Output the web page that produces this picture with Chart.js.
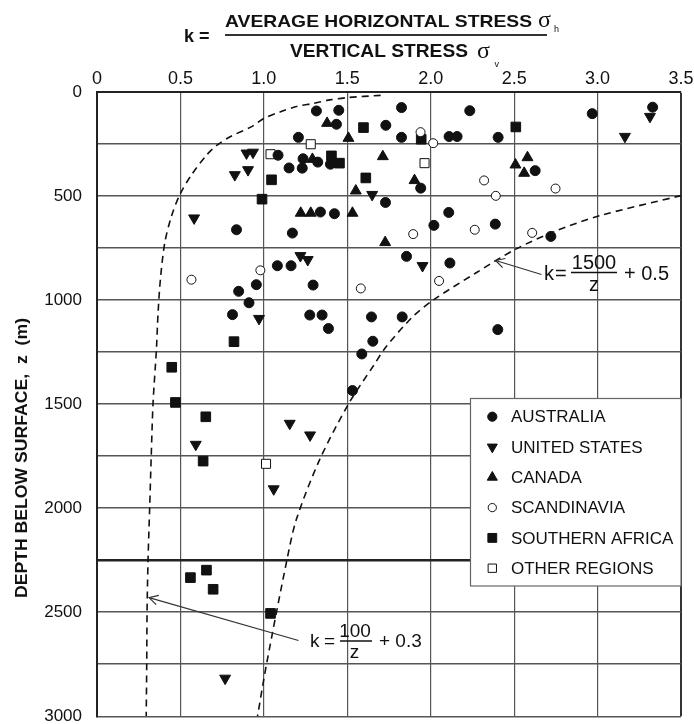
<!DOCTYPE html>
<html><head><meta charset="utf-8">
<script src="https://cdn.jsdelivr.net/npm/chart.js@4.4.1/dist/chart.umd.min.js"></script>
<style>
html,body{margin:0;padding:0;background:#fff;}
canvas{display:block;}
</style></head><body>
<canvas id="c" width="694" height="724" style="width:694px;height:724px"></canvas>
<script>
// ---------- DATA ----------
const kLabels = ['0','0.5','1.0','1.5','2.0','2.5','3.0','3.5'];
const depthLabels = ['0','500','1000','1500','2000','2500','3000'];
const seriesNames = ['AUSTRALIA','UNITED STATES','CANADA','SCANDINAVIA','SOUTHERN AFRICA','OTHER REGIONS'];

const australiaK = [1.315,1.449,1.435,1.731,1.207,1.825,1.085,1.151,1.230,1.235,1.323,1.399,1.729,1.339,1.423,0.836,1.171,1.081,1.163,0.955,1.295,0.849,0.911,1.825,2.234,2.968,3.330,2.110,2.158,2.404,2.626,1.940,2.108,2.019,2.387,2.720,1.855,2.115,1.829,0.812,1.275,1.349,1.387,1.645,1.653,1.587,1.531,2.402];
const australiaZ = [91,88,155,160,218,218,304,365,366,321,337,347,531,577,585,662,678,835,835,926,928,958,1013,75,90,104,73,214,214,218,378,462,579,641,635,694,790,822,1081,1070,1072,1072,1137,1081,1198,1259,1435,1142];

const usK = [0.896,0.935,0.905,0.826,1.649,0.582,1.219,1.263,3.314,3.164,1.951,0.971,0.592,1.155,1.277,1.059,0.768];
const usZ = [294,290,374,398,493,606,787,806,118,214,835,1089,1694,1593,1649,1908,2818];

const canadaK = [1.379,1.507,1.713,1.291,1.551,1.221,1.281,1.531,1.727,2.580,2.508,2.560,1.903];
const canadaZ = [150,222,310,323,475,582,582,582,723,315,350,390,425];

const scandK = [0.979,0.566,1.581,1.939,2.015,2.320,2.390,2.748,1.895,2.264,2.608,2.050];
const scandZ = [857,902,944,193,246,425,499,464,683,662,677,908];

const safricaK = [1.597,1.405,1.453,1.046,1.611,0.989,1.943,2.510,0.821,0.448,0.470,0.652,0.636,0.560,0.656,0.696,1.040];
const safricaZ = [171,307,342,422,413,515,227,168,1200,1323,1492,1561,1774,2334,2298,2390,2506];

const otherK = [1.281,1.040,1.963,1.013];
const otherZ = [251,299,342,1787];

// dashed bounding curves as drawn (k = 100/z + 0.3 and k = 1500/z + 0.5)
const curveLowK = [1.70,1.50,1.395,1.295,1.195,1.10,1.0,0.93,0.80,0.72,0.66,0.565,0.496,0.445,0.406,0.38,0.366,0.356,0.336,0.325,0.316,0.306,0.300,0.298,0.295];
const curveLowZ = [16,27,38,55,70,95,127,165,214,255,300,400,494,600,726,900,1062,1238,1494,1750,1990,2246,2500,2750,3000];
const curveHighK = [3.50,3.01,2.75,2.51,2.27,2.019,1.895,1.735,1.655,1.511,1.335,1.195,1.135,1.016,0.962];
const curveHighZ = [498,595,668,755,870,998,1078,1222,1318,1494,1766,2054,2262,2750,3000];

// annotation anchors (data coords of arrow tips)
const arrowLowTip = [0.312, 2430];
const arrowHighTip = [2.389, 810];

// ---------- STYLES ----------
const FONT = "'Liberation Sans', Arial, Helvetica, sans-serif";
const SERIF = "'Liberation Serif', 'DejaVu Serif', serif";
const INK = '#111';
const markerStyles = [
  {pointStyle:'circle',   radius:5,   rotation:0,   fill:INK,    border:INK, bw:1},
  {pointStyle:'triangle', radius:6.3, rotation:180, fill:INK,    border:INK, bw:1},
  {pointStyle:'triangle', radius:6.3, rotation:0,   fill:INK,    border:INK, bw:1},
  {pointStyle:'circle',   radius:4.5, rotation:0,   fill:'#fff', border:INK, bw:1},
  {pointStyle:'rect',     radius:6.8, rotation:0,   fill:INK,    border:INK, bw:1},
  {pointStyle:'rect',     radius:6.4, rotation:0,   fill:'#fff', border:INK, bw:1}
];

function pts(ks, zs){ return ks.map((k,i)=>({x:k, y:zs[i]})); }
const seriesData = [
  pts(australiaK, australiaZ), pts(usK, usZ), pts(canadaK, canadaZ),
  pts(scandK, scandZ), pts(safricaK, safricaZ), pts(otherK, otherZ)
];

const datasets = seriesData.map((d,i)=>({
  label: seriesNames[i], data: d, showLine:false,
  pointStyle: markerStyles[i].pointStyle, pointRadius: markerStyles[i].radius,
  rotation: markerStyles[i].rotation, backgroundColor: markerStyles[i].fill,
  borderColor: markerStyles[i].border, borderWidth: markerStyles[i].bw
}));
[ [curveLowK,curveLowZ], [curveHighK,curveHighZ] ].forEach(([ks,zs])=>{
  datasets.push({label:'curve', data: pts(ks,zs), showLine:true, pointRadius:0,
    borderColor:'#111', borderWidth:1.6, borderDash:[7,5], tension:0.3, fill:false});
});

function fitText(ctx, text, x, y, width){
  const w = ctx.measureText(text).width;
  ctx.save(); ctx.translate(x,y); ctx.scale(width/w,1); ctx.textAlign='left'; ctx.fillText(text,0,0); ctx.restore();
}
function arrow(ctx, x1,y1,x2,y2){
  ctx.beginPath(); ctx.moveTo(x1,y1); ctx.lineTo(x2,y2); ctx.stroke();
  const a = Math.atan2(y1-y2, x1-x2), L=10, sp=0.5;
  ctx.beginPath();
  ctx.moveTo(x2+L*Math.cos(a+sp), y2+L*Math.sin(a+sp));
  ctx.lineTo(x2,y2);
  ctx.lineTo(x2+L*Math.cos(a-sp), y2+L*Math.sin(a-sp));
  ctx.stroke();
}

const decor = {
  id:'decor',
  afterDatasetsDraw(chart){
    const ctx = chart.ctx, xs = chart.scales.x, ys = chart.scales.y;
    ctx.save();
    ctx.fillStyle = INK; ctx.strokeStyle = INK;
    // ---- title ----
    ctx.textBaseline = 'alphabetic';
    ctx.font = 'bold 18px ' + FONT;
    ctx.fillText('k =', 184, 41.5);
    ctx.font = 'bold 17px ' + FONT;
    fitText(ctx, 'AVERAGE HORIZONTAL STRESS', 225, 26.7, 307);
    ctx.font = 'bold 18px ' + FONT;
    fitText(ctx, 'VERTICAL STRESS', 290, 56.7, 178);
    ctx.strokeStyle = '#333'; ctx.lineWidth = 2;
    ctx.beginPath(); ctx.moveTo(225,35); ctx.lineTo(547,35); ctx.stroke();
    ctx.font = '24px ' + SERIF;
    ctx.fillText('\u03C3', 538, 26.5);
    ctx.fillText('\u03C3', 477, 57.5);
    ctx.font = '9px ' + FONT;
    ctx.fillText('h', 554, 32);
    ctx.fillText('v', 494.5, 67);
    // ---- y axis title ----
    ctx.save();
    ctx.font = 'bold 17px ' + FONT;
    ctx.translate(27, 458); ctx.rotate(-Math.PI/2);
    const tw = ctx.measureText('DEPTH BELOW SURFACE,  z  (m)').width;
    ctx.scale(280/tw, 1); ctx.textAlign='center';
    ctx.fillText('DEPTH BELOW SURFACE,  z  (m)', 0, 0);
    ctx.restore();
    // ---- annotations ----
    ctx.strokeStyle = '#333'; ctx.lineWidth = 1.2;
    arrow(ctx, 541.5, 274.5, xs.getPixelForValue(arrowHighTip[0]), ys.getPixelForValue(arrowHighTip[1]));
    arrow(ctx, 298.5, 640.5, xs.getPixelForValue(arrowLowTip[0]), ys.getPixelForValue(arrowLowTip[1]));
    ctx.fillStyle = INK; ctx.strokeStyle = INK;
    ctx.font = '20px ' + FONT; ctx.textAlign='left';
    ctx.fillText('k', 544, 279.5); ctx.fillText('=', 555, 279.5);
    ctx.textAlign='center';
    ctx.fillText('1500', 594, 269); ctx.fillText('z', 594, 290.5);
    ctx.textAlign='left'; ctx.fillText('+ 0.5', 624, 279.5);
    ctx.lineWidth = 1.5; ctx.beginPath(); ctx.moveTo(571,272.5); ctx.lineTo(617,272.5); ctx.stroke();
    ctx.font = '19px ' + FONT; ctx.textAlign='left';
    ctx.fillText('k', 310, 647); ctx.fillText('=', 324, 647);
    ctx.textAlign='center';
    ctx.fillText('100', 355, 637); ctx.fillText('z', 354.5, 658);
    ctx.textAlign='left'; ctx.fillText('+ 0.3', 379, 647);
    ctx.beginPath(); ctx.moveTo(340,641); ctx.lineTo(372,641); ctx.stroke();
    // ---- legend ----
    const lx = 470.5, ly = 398.5, lw = chart.chartArea.right - 470.5, lh = 187.5;
    ctx.fillStyle = '#fff'; ctx.fillRect(lx, ly, lw, lh);
    ctx.strokeStyle = '#666'; ctx.lineWidth = 1.2; ctx.strokeRect(lx, ly, lw, lh);
    ctx.font = '17px ' + FONT; ctx.textBaseline = 'middle'; ctx.textAlign='left';
    seriesNames.forEach((name,i)=>{
      const yy = 416.7 + i*30.3, m = markerStyles[i];
      ctx.fillStyle = m.fill; ctx.strokeStyle = m.border; ctx.lineWidth = m.bw;
      Chart.helpers.drawPoint(ctx, {pointStyle:m.pointStyle, rotation:m.rotation, radius: m.radius*0.92, borderWidth:m.bw}, 492.3, yy);
      ctx.fillStyle = INK;
      ctx.fillText(name, 511, yy + 1);
    });
    ctx.restore();
  }
};

new Chart(document.getElementById('c'), {
  type:'scatter',
  data:{ datasets },
  options:{
    responsive:false, animation:false, devicePixelRatio:1, events:[],
    layout:{ padding:{ left:0, top:0, right:13, bottom:7 } },
    plugins:{ legend:{display:false}, tooltip:{enabled:false}, title:{display:false} },
    scales:{
      x:{ type:'linear', position:'top', min:0, max:3.5,
        ticks:{ stepSize:0.5, padding:0, color:INK, maxRotation:0, autoSkip:false,
          font:{family:FONT, size:18},
          callback:(v)=> kLabels[Math.round(v/0.5)] },
        grid:{ drawTicks:true, tickLength:2, tickColor:'rgba(0,0,0,0)',
          color:(c)=> (c.tick && Math.abs(c.tick.value-3.5)<1e-6) ? '#333' : '#555',
          lineWidth:(c)=> (c.tick && Math.abs(c.tick.value-3.5)<1e-6) ? 2 : 1.2 },
        border:{ display:true, color:'#222', width:2 },
        afterFit:(s)=>{ s.height = 92; } },
      y:{ type:'linear', reverse:true, min:0, max:3000,
        ticks:{ stepSize:250, padding:1, color:INK, autoSkip:false,
          font:{family:FONT, size:17, lineHeight:0.5},
          callback:(v)=> (v % 500 === 0) ? depthLabels[v/500] : '' },
        grid:{ drawTicks:true, tickLength:14, tickColor:'rgba(0,0,0,0)',
          color:(c)=> (c.tick && c.tick.value===2250) ? '#222' : '#555',
          lineWidth:(c)=> (c.tick && c.tick.value===2250) ? 2.5 : 1.4 },
        border:{ display:true, color:'#222', width:2 },
        afterFit:(s)=>{ s.width = 97; } }
    }
  },
  plugins:[decor]
});
</script>
</body></html>
